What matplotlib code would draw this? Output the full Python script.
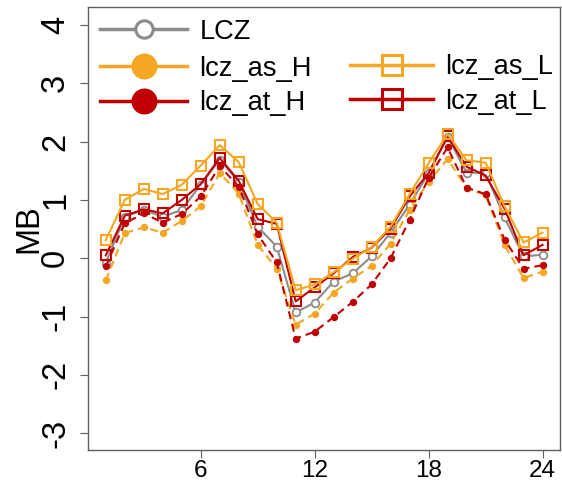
# -*- coding: utf-8 -*-
"""
Hourly mean bias (MB) for the LCZ run and the four lcz_* sensitivity runs.
"""

#%% import modules
import matplotlib
matplotlib.use('Agg')
import matplotlib.pyplot as plt
from matplotlib.lines import Line2D
import numpy as np

# set default fonts
plt.rcParams.update({'font.family': 'Liberation Sans'})
plt.rcParams.update({'axes.unicode_minus': False})
plt.rcParams.update({'axes.linewidth': 1.0})
plt.rcParams.update({'axes.edgecolor': '#606060'})

#%% data: hour of day and MB for each run
hours = np.arange(1, 25)

lcz = [-0.08, 0.71, 0.83, 0.71, 0.83, 1.26, 1.69, 1.31, 0.54, 0.20, -0.93, -0.76,
       -0.40, -0.26, 0.03, 0.44, 0.92, 1.46, 2.08, 1.47, 1.46, 0.70, 0.03, 0.06]
lcz_as_H = [-0.38, 0.43, 0.53, 0.44, 0.64, 0.89, 1.46, 1.11, 0.23, -0.18, -1.14, -0.95,
            -0.59, -0.35, -0.13, 0.25, 0.83, 1.31, 1.70, 1.21, 1.08, 0.23, -0.34, -0.23]
lcz_at_H = [-0.14, 0.60, 0.77, 0.61, 0.76, 1.06, 1.58, 1.23, 0.41, -0.07, -1.38, -1.26,
            -1.01, -0.75, -0.45, 0.00, 0.66, 1.38, 1.90, 1.21, 1.10, 0.32, -0.18, -0.12]
lcz_as_L = [0.31, 1.00, 1.19, 1.10, 1.26, 1.59, 1.94, 1.65, 0.93, 0.61, -0.55, -0.45,
            -0.24, -0.01, 0.19, 0.54, 1.10, 1.63, 2.13, 1.68, 1.64, 0.89, 0.27, 0.44]
lcz_at_L = [0.05, 0.73, 0.84, 0.77, 1.00, 1.27, 1.72, 1.33, 0.67, 0.59, -0.74, -0.50,
            -0.26, 0.02, 0.18, 0.51, 1.06, 1.46, 2.09, 1.57, 1.42, 0.85, 0.05, 0.23]

x_ticks = [6, 12, 18, 24]
y_ticks = [-3, -2, -1, 0, 1, 2, 3, 4]

grey = '#8C8C8C'
orange = '#F5A623'
red = '#C00000'
dash = (0, (3.8, 2.4))

#%% plot
fig = plt.figure(figsize=(5.62, 4.84), dpi=100)
ax = fig.add_axes([88.3/562, 1 - 450/484, (560 - 88.3)/562, (450 - 7)/484])

ax.plot(hours, lcz, color=grey, lw=1.5, marker='o', ms=5.5, mfc='white',
        mec=grey, mew=1.3, zorder=3)
ax.plot(hours, lcz_as_H, color=orange, lw=1.5, ls=dash, marker='o', ms=5.3,
        mfc=orange, mec=orange, mew=0, zorder=3)
ax.plot(hours, lcz_at_H, color=red, lw=1.5, ls=dash, marker='o', ms=5.3,
        mfc=red, mec=red, mew=0, zorder=3)
ax.plot(hours, lcz_at_L, color=red, lw=1.5, marker='s', ms=7, mfc='none',
        mec=red, mew=1.5, zorder=4)
ax.plot(hours, lcz_as_L, color=orange, lw=1.5, marker='s', ms=7, mfc='none',
        mec=orange, mew=1.5, zorder=4)

ax.set_xlim(0.08, 24.92)
ax.set_ylim(-3.29, 4.31)
ax.set_xticks(x_ticks)
ax.set_yticks(y_ticks)
ax.tick_params(axis='x', labelsize=17.5, pad=1.5, length=5.8, color='#606060')
ax.tick_params(axis='y', labelsize=23.5, pad=6.5, length=5.8, color='#606060')
for lab in ax.get_yticklabels():
    lab.set_rotation(90)
    lab.set_va('center')

ax.set_ylabel('MB', fontsize=23.5)
ax.yaxis.set_label_coords(-0.093, 0.5)

#%% legend (three blocks, solid lines with big markers)
def proxy(color, marker, ms, mfc):
    return Line2D([], [], color=color, lw=2.5, marker=marker, markersize=ms,
                  markerfacecolor=mfc, markeredgecolor=color, markeredgewidth=2.2)

leg_kw = dict(loc='center left', bbox_transform=fig.transFigure, frameon=False,
              fontsize=19.6, handletextpad=0.45, borderpad=0, borderaxespad=0,
              labelspacing=0.32)

leg1 = ax.legend([proxy(grey, 'o', 12.5, 'white')], ['LCZ'],
                 bbox_to_anchor=(100/562, 1 - 32/484), handlelength=3.2, **leg_kw)
ax.add_artist(leg1)
leg2 = ax.legend([proxy(orange, 's', 14.5, 'none'), proxy(red, 's', 14.5, 'none')],
                 ['lcz_as_L', 'lcz_at_L'],
                 bbox_to_anchor=(350/562, 1 - 84.5/484), handlelength=3.05, **leg_kw)
ax.add_artist(leg2)
leg3 = ax.legend([proxy(orange, 'o', 16.5, orange), proxy(red, 'o', 16.5, red)],
                 ['lcz_as_H', 'lcz_at_H'],
                 bbox_to_anchor=(100/562, 1 - 86/484), handlelength=3.2, **leg_kw)

plt.savefig('out.png', dpi=100)
